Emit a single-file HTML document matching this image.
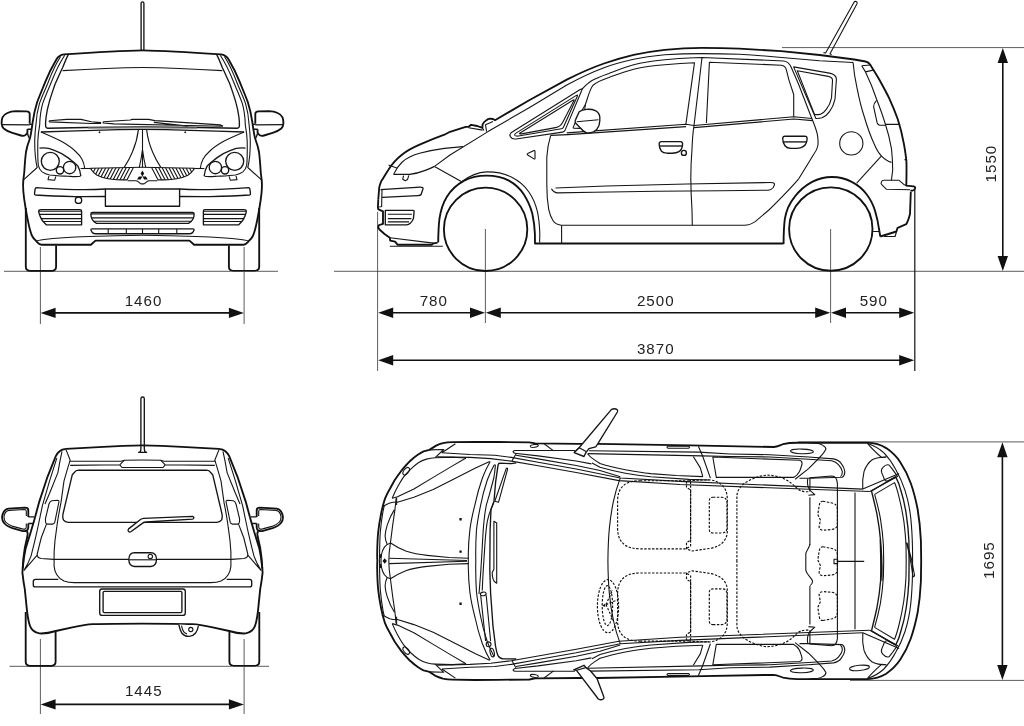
<!DOCTYPE html>
<html><head><meta charset="utf-8"><title>Blueprint</title>
<style>
html,body{margin:0;padding:0;background:#fff;}
svg{display:block}
.t{fill:none;stroke:#151515;stroke-width:1.1;stroke-linecap:butt;stroke-linejoin:round}
.m{fill:none;stroke:#151515;stroke-width:1.35;stroke-linecap:butt;stroke-linejoin:round}
.k{fill:none;stroke:#111;stroke-width:1.85;stroke-linecap:butt;stroke-linejoin:round}
.h{fill:none;stroke:#222;stroke-width:.6;stroke-linecap:butt}
.d{fill:none;stroke:#111;stroke-width:1.15;stroke-dasharray:2.4 1.5}
.e{fill:none;stroke:#333;stroke-width:.8}
.a{fill:none;stroke:#111;stroke-width:1.6}
.f{fill:#111;stroke:none}
.w{fill:#fff}
text{font-family:"Liberation Sans",sans-serif;font-size:14px;fill:#222;letter-spacing:.95px;text-anchor:middle}
</style></head><body>
<svg width="1024" height="726" viewBox="0 0 1024 726">
<rect width="1024" height="726" fill="#fff"/>
<g id="dims"><!-- ground lines -->
<path class="e" d="M4 271.3H278M334 271.3H1024M9.5 666.3H269M782 47.6H1024M798 441.9H1024M850 680.4H1024"/>
<!-- extension lines -->
<path class="e" d="M40.4 247V324M244.1 247V324M40.4 639V714M244.1 639V714M377.6 211.8V371M485.4 229V323M830.6 229V323"/>
<path class="e" style="stroke:#111;stroke-width:1.2" d="M914.8 190V371"/>
<!-- arrows -->
<path class="a" d="M52 312.9H233M52 704.4H233M389 312.8H474M497 312.8H819M842 312.8H903M389 360.3H903M1002.8 60V259M1002.4 454V668"/>
<path class="f" d="M40.6 312.9l15-5.2v10.4zM243.9 312.9l-15-5.2v10.4zM40.6 704.4l15-5.2v10.4zM243.9 704.4l-15-5.2v10.4z"/>
<path class="f" d="M378.2 312.8l15-5.2v10.4zM485 312.8l-15-5.2v10.4zM485.8 312.8l15-5.2v10.4zM830.2 312.8l-15-5.2v10.4zM831 312.8l15-5.2v10.4zM914.2 312.8l-15-5.2v10.4zM378.2 360.3l15-5.2v10.4zM914.2 360.3l-15-5.2v10.4z"/>
<path class="f" d="M1002.8 48l-5.2 15h10.4zM1002.8 271l-5.2-15h10.4zM1002.4 442.3l-5.2 15h10.4zM1002.4 680l-5.2-15h10.4z"/>
<text transform="translate(143.5 306.2) scale(1.08 1)">1460</text>
<text transform="translate(143.8 696.2) scale(1.08 1)">1445</text>
<text transform="translate(433.8 305.8) scale(1.08 1)">780</text>
<text transform="translate(655.8 305.8) scale(1.08 1)">2500</text>
<text transform="translate(873.8 305.8) scale(1.08 1)">590</text>
<text transform="translate(655.8 354.3) scale(1.08 1)">3870</text>
<text transform="translate(995.9 163.6) rotate(-90) scale(1.08 1)">1550</text>
<text transform="translate(994.2 560.1) rotate(-90) scale(1.08 1)">1695</text>
</g>
<g id="front"><g><!-- tyre -->
<path class="k" d="M25.8 208V266.6Q25.8 270.8 29.8 270.8H52.2Q56.1 270.8 56.1 266.6V245.4"/>
<!-- roof + pillar outer -->
<path class="k" d="M143 50.3C120 50.8 90 52.6 64 54.3C59.5 54.8 58 56.5 56.5 59.3C52 67 48.5 74 45.5 81.3C42 90 39.5 96 37.2 102C35 109 33.5 116 32.6 122.6C31.6 130 30.8 136 29.7 139C28.2 143 26.8 147 26 152C25.2 158 24.7 165 24.3 172L23.4 179.5C22.6 185 23.5 196 25.5 207.5C26.8 215 28 222 29.6 228.2C30.6 232 31.3 234.6 32.4 236.5C33.5 238.6 35 240 36.5 241.3C38 242.8 39 244.7 41.5 244.7H90.9L95.5 240.6H143"/>
<!-- pillar inner lines -->
<path class="t" d="M60.6 56.5C55 65 50.5 76 47.5 84C44.5 91 41.5 97.5 39.5 103.4C37.5 110 36.3 118 35.9 124.8C35.2 131 34.8 136 34.7 140.9C34.7 146 34.9 151 35.3 155.8C35.7 160 36.3 164 37.2 167.5L23.8 179.6"/>
<path class="t" d="M64.7 55.2C59 64 54.5 74 51.7 81.3C48.5 89 45 97 42.7 103.4C40.8 110 39.9 118 39.7 124.8C38.8 130 38 136 37.8 140.9C37.7 146 37.7 151 37.8 155.8C37.9 160 38 163 38.4 165.7C39 168.5 40.3 170.5 42.1 171.9C44.5 173.6 47 174.5 49.6 175C55 175.8 62 176 68 176.3C72 176.5 77 177 80.6 176.2"/>
<!-- windshield -->
<path class="m" d="M68.2 54.9C66 59 64.5 63 62.7 67.5C60 73 57.5 79 55.1 84C52.8 91 50.5 97 48.9 103.4C47.6 108 46.6 113 46.1 117C45.7 120 45.5 124 45.6 126C45.8 127.8 46.4 128.2 48 128.2C80 127.5 110 127 143 126.8"/>
<path class="t" d="M62.7 70.6C90 69 115 67.8 143 67.5"/>
<path class="m" d="M40.9 132C75 130.6 110 129.6 143 129.3"/>
<path class="t" style="stroke:#888;stroke-width:1.2" d="M88 128.2L143 127.8"/>
<!-- hood cutline -->
<path class="t" d="M40.9 132C48 135 55 138 61.3 141.3C67 144.5 71.5 147.5 75.1 151C78.5 154 80.5 156.5 82 159.2C83.5 162 84.3 165 84.7 168.4"/>
<!-- headlight -->
<path class="m" d="M39.5 148.2C45 147.4 50 148.5 54.4 150.3C60 152.2 64.5 155 68.2 157.9C72 161 75.5 163.5 77.9 166.1C79.6 169 80.4 172 80.8 176"/>
<circle class="m" cx="50.3" cy="161.3" r="9"/>
<circle class="m" cx="69.6" cy="167.5" r="6.2"/>
<circle class="m" cx="60" cy="170.3" r="3.7"/>
<path class="t" d="M49 176l-1 3.6l6.6.7l1.3-4"/>
<path class="t" d="M80.6 168.5H90.4"/>
<!-- hood creases -->
<path class="t" d="M138.4 129.6C137.4 138 135 146 132.4 152C130 158 127 163 124.2 167.4"/>
<path class="t" d="M142.5 129.6V167.3M142.4 150C141.6 157 140.3 163 139.3 167.3"/>
<!-- grille -->
<clipPath id="gc"><path d="M90.2 168.3L133.4 167.4L126.9 179.9C120 179.9 113 179.5 108.2 178.7C103 177.8 100 176.6 97.1 175.2C94 173.5 92 171 90.2 168.3Z"/></clipPath>
<path class="t" d="M90.2 168.3L143 167.2M133.4 167.4L126.9 179.9C120 179.9 113 179.5 108.2 178.7C103 177.8 100 176.6 97.1 175.2C94 173.5 92 171 90.2 168.3"/>
<g clip-path="url(#gc)"><path class="t" d="M130.0 167l-7 13.5M126.6 167l-7 13.5M123.2 167l-7 13.5M119.8 167l-7 13.5M116.4 167l-7 13.5M113.0 167l-7 13.5M109.6 167l-7 13.5M106.2 167l-7 13.5M102.8 167l-7 13.5M99.4 167l-7 13.5M96.0 167l-7 13.5M92.6 167l-7 13.5"/></g>
<path class="t" d="M127.6 180.7H136.2C138 181 139 182.6 140.3 183.4C141 183.8 142 183.9 143 183.9"/>
<!-- bumper strip -->
<path class="m" d="M105.4 189C95 189.8 85 189.8 75.1 189.6C62 189.2 48 188.4 36.4 187.6C35.6 187.6 35.4 187.8 35.2 188.6L34.5 193.6C34.4 194.5 34.7 194.9 35.6 195C48 196 62 196.4 75.1 196.6C85 196.7 95 196.6 105.4 196.5"/>
<!-- plate -->
<path class="m" d="M143 189H105.4V206.2H143"/>
<!-- side grille -->
<path class="m" d="M41 209.6H80Q81.6 209.6 81.6 211.2V224.8H46.2C43 222 41 219 40 216C39.2 214 38.6 212.5 38.7 211.2Q38.8 209.6 41 209.6Z"/>
<path class="t" d="M39.2 214.4H81.6M40.7 218.6H81.6M43 221.5H81.6M38.9 211.2H81.6"/>
<!-- centre grille -->
<path class="m" d="M143 212.4H92.5Q90.9 212.4 90.9 214C90.9 216 91 217.5 92 219C93 221 94.5 222.5 96.5 223.4H143"/>
<path class="t" d="M90.9 213.9H143M91.3 217.9H143M94 221.3H143"/>
<!-- lower slot -->
<path class="m" d="M143 228.9H92Q90.7 228.9 91 230C91.6 232 93 233.7 95.5 233.7H143"/>
<path class="t" d="M108.2 228.9V233.7M126.3 228.9V233.7"/>
<!-- bumper inner line -->
<path class="t" d="M36.5 241.3C37 240.6 40 240 44 239.5C55 238.2 70 237.2 88.9 236.5C105 235.8 125 235.3 143 235.2"/>
<!-- mirror -->
<path class="k" d="M29.7 123.8V113.8Q29.7 111.5 26.6 111.4L16.1 111.2C12 111.4 9.5 112 7.4 113C4.5 114.3 3.1 115.8 2.5 117.3C1.7 119.5 1.5 121.5 1.6 123.5C1.8 126 2.5 127.5 3.7 128.5C6 130.5 9 131.8 12.4 132.8L21 135.5Q23.5 136.3 25.2 135.2C26.6 134.2 27.4 133.5 27.4 132.6V129.2"/>
<path class="m" d="M27.4 129.2H31.8M29.7 124.3H32.4M1.8 124.6L29.7 124.9M27.4 133C27.8 135 28.8 137.5 29.7 139"/>
</g><g style="mix-blend-mode:darken" transform="matrix(-1 0 0 1 285 0)"><rect x="0" y="40" width="150" height="235" fill="#fff"/><!-- tyre -->
<path class="k" d="M25.8 208V266.6Q25.8 270.8 29.8 270.8H52.2Q56.1 270.8 56.1 266.6V245.4"/>
<!-- roof + pillar outer -->
<path class="k" d="M143 50.3C120 50.8 90 52.6 64 54.3C59.5 54.8 58 56.5 56.5 59.3C52 67 48.5 74 45.5 81.3C42 90 39.5 96 37.2 102C35 109 33.5 116 32.6 122.6C31.6 130 30.8 136 29.7 139C28.2 143 26.8 147 26 152C25.2 158 24.7 165 24.3 172L23.4 179.5C22.6 185 23.5 196 25.5 207.5C26.8 215 28 222 29.6 228.2C30.6 232 31.3 234.6 32.4 236.5C33.5 238.6 35 240 36.5 241.3C38 242.8 39 244.7 41.5 244.7H90.9L95.5 240.6H143"/>
<!-- pillar inner lines -->
<path class="t" d="M60.6 56.5C55 65 50.5 76 47.5 84C44.5 91 41.5 97.5 39.5 103.4C37.5 110 36.3 118 35.9 124.8C35.2 131 34.8 136 34.7 140.9C34.7 146 34.9 151 35.3 155.8C35.7 160 36.3 164 37.2 167.5L23.8 179.6"/>
<path class="t" d="M64.7 55.2C59 64 54.5 74 51.7 81.3C48.5 89 45 97 42.7 103.4C40.8 110 39.9 118 39.7 124.8C38.8 130 38 136 37.8 140.9C37.7 146 37.7 151 37.8 155.8C37.9 160 38 163 38.4 165.7C39 168.5 40.3 170.5 42.1 171.9C44.5 173.6 47 174.5 49.6 175C55 175.8 62 176 68 176.3C72 176.5 77 177 80.6 176.2"/>
<!-- windshield -->
<path class="m" d="M68.2 54.9C66 59 64.5 63 62.7 67.5C60 73 57.5 79 55.1 84C52.8 91 50.5 97 48.9 103.4C47.6 108 46.6 113 46.1 117C45.7 120 45.5 124 45.6 126C45.8 127.8 46.4 128.2 48 128.2C80 127.5 110 127 143 126.8"/>
<path class="t" d="M62.7 70.6C90 69 115 67.8 143 67.5"/>
<path class="m" d="M40.9 132C75 130.6 110 129.6 143 129.3"/>
<path class="t" style="stroke:#888;stroke-width:1.2" d="M88 128.2L143 127.8"/>
<!-- hood cutline -->
<path class="t" d="M40.9 132C48 135 55 138 61.3 141.3C67 144.5 71.5 147.5 75.1 151C78.5 154 80.5 156.5 82 159.2C83.5 162 84.3 165 84.7 168.4"/>
<!-- headlight -->
<path class="m" d="M39.5 148.2C45 147.4 50 148.5 54.4 150.3C60 152.2 64.5 155 68.2 157.9C72 161 75.5 163.5 77.9 166.1C79.6 169 80.4 172 80.8 176"/>
<circle class="m" cx="50.3" cy="161.3" r="9"/>
<circle class="m" cx="69.6" cy="167.5" r="6.2"/>
<circle class="m" cx="60" cy="170.3" r="3.7"/>
<path class="t" d="M49 176l-1 3.6l6.6.7l1.3-4"/>
<path class="t" d="M80.6 168.5H90.4"/>
<!-- hood creases -->
<path class="t" d="M138.4 129.6C137.4 138 135 146 132.4 152C130 158 127 163 124.2 167.4"/>
<path class="t" d="M142.5 129.6V167.3M142.4 150C141.6 157 140.3 163 139.3 167.3"/>
<!-- grille -->
<clipPath id="gc"><path d="M90.2 168.3L133.4 167.4L126.9 179.9C120 179.9 113 179.5 108.2 178.7C103 177.8 100 176.6 97.1 175.2C94 173.5 92 171 90.2 168.3Z"/></clipPath>
<path class="t" d="M90.2 168.3L143 167.2M133.4 167.4L126.9 179.9C120 179.9 113 179.5 108.2 178.7C103 177.8 100 176.6 97.1 175.2C94 173.5 92 171 90.2 168.3"/>
<g clip-path="url(#gc)"><path class="t" d="M130.0 167l-7 13.5M126.6 167l-7 13.5M123.2 167l-7 13.5M119.8 167l-7 13.5M116.4 167l-7 13.5M113.0 167l-7 13.5M109.6 167l-7 13.5M106.2 167l-7 13.5M102.8 167l-7 13.5M99.4 167l-7 13.5M96.0 167l-7 13.5M92.6 167l-7 13.5"/></g>
<path class="t" d="M127.6 180.7H136.2C138 181 139 182.6 140.3 183.4C141 183.8 142 183.9 143 183.9"/>
<!-- bumper strip -->
<path class="m" d="M105.4 189C95 189.8 85 189.8 75.1 189.6C62 189.2 48 188.4 36.4 187.6C35.6 187.6 35.4 187.8 35.2 188.6L34.5 193.6C34.4 194.5 34.7 194.9 35.6 195C48 196 62 196.4 75.1 196.6C85 196.7 95 196.6 105.4 196.5"/>
<!-- plate -->
<path class="m" d="M143 189H105.4V206.2H143"/>
<!-- side grille -->
<path class="m" d="M41 209.6H80Q81.6 209.6 81.6 211.2V224.8H46.2C43 222 41 219 40 216C39.2 214 38.6 212.5 38.7 211.2Q38.8 209.6 41 209.6Z"/>
<path class="t" d="M39.2 214.4H81.6M40.7 218.6H81.6M43 221.5H81.6M38.9 211.2H81.6"/>
<!-- centre grille -->
<path class="m" d="M143 212.4H92.5Q90.9 212.4 90.9 214C90.9 216 91 217.5 92 219C93 221 94.5 222.5 96.5 223.4H143"/>
<path class="t" d="M90.9 213.9H143M91.3 217.9H143M94 221.3H143"/>
<!-- lower slot -->
<path class="m" d="M143 228.9H92Q90.7 228.9 91 230C91.6 232 93 233.7 95.5 233.7H143"/>
<path class="t" d="M108.2 228.9V233.7M126.3 228.9V233.7"/>
<!-- bumper inner line -->
<path class="t" d="M36.5 241.3C37 240.6 40 240 44 239.5C55 238.2 70 237.2 88.9 236.5C105 235.8 125 235.3 143 235.2"/>
<!-- mirror -->
<path class="k" d="M29.7 123.8V113.8Q29.7 111.5 26.6 111.4L16.1 111.2C12 111.4 9.5 112 7.4 113C4.5 114.3 3.1 115.8 2.5 117.3C1.7 119.5 1.5 121.5 1.6 123.5C1.8 126 2.5 127.5 3.7 128.5C6 130.5 9 131.8 12.4 132.8L21 135.5Q23.5 136.3 25.2 135.2C26.6 134.2 27.4 133.5 27.4 132.6V129.2"/>
<path class="m" d="M27.4 129.2H31.8M29.7 124.3H32.4M1.8 124.6L29.7 124.9M27.4 133C27.8 135 28.8 137.5 29.7 139"/>
</g><!-- antenna -->
<path class="m" d="M141.1 50.3V3.2Q141.1 1.8 142.5 1.8Q143.9 1.8 143.9 3.2V50.3"/>
<path class="t" d="M142.5 228.9V233.7"/>
<!-- fog sensor -->
<circle class="m w" cx="78.5" cy="200.2" r="3.2"/>
<!-- logo -->
<path class="f" d="M142.4 176.4l-1.75-3l1.75-3l1.75 3zM142.4 176.4l-1.75 3.1h-3.6l1.8-3.1zM142.4 176.4l1.75 3.1h3.6l-1.8-3.1z"/>
<!-- wipers -->
<path class="t" d="M49.2 120.8L66.7 119.4H81L91.3 121.8L101.1 122.6M49.2 121.9L91.3 123.5L101.1 123.4M49.2 120.8V121.9"/>
<path class="t" d="M103.2 121.8L130.2 120L132.3 119.4H148.7L154.8 120.6L220.5 124.9L223.1 126.3M103.2 121.8V123L113.8 123.9L223.1 126.3M153.8 122.4L187.7 126.1"/>
<path class="t" d="M98.9 132.9l.6-1l.6 1M184.6 132.9l.6-1l.6 1"/>
</g>
<g id="rear"><g><!-- tyre -->
<path class="k" d="M25.7 612V661.6Q25.7 665.8 29.7 665.8H51.6Q55.6 665.8 55.6 661.6V631.5"/>
<!-- roof + outer body -->
<path class="k" d="M143 445.3C125 445.6 112 446.3 103.3 446.8L66.1 448.9C62.5 449.2 61 450 59.9 451C58 452.6 56.8 454 55.8 456.1L47.5 476.8L39.3 501.6L35.1 516.9"/>
<path class="k" d="M35.1 516.9C33.8 522 32.2 527 31 531.3L25.8 547.9C24.2 555 23.2 562 22.7 568.5L22.4 572.6C23 578 23.8 584 24.8 589.2L26.9 609.8C27.4 614.5 28 618.5 28.9 622.2C29.8 626 31 628.8 33.1 630.5C35 632.2 37 633.2 39.3 633.4C45 633.8 50.5 632.6 55.8 631L72.3 627.4C79 626 86 624.6 93 624.2C110 623.6 126 623.6 143 623.6"/>
<!-- pillar thin lines -->
<path class="t" d="M56.8 458.2L49.6 480.9L42.4 505.7L37.2 530.5C35.5 538 33.5 547 31 556.1C29 561.5 26.8 566 24 570.4L37.2 555.1"/>
<path class="t" d="M62 451.4C60.5 458 59 466 57.9 472.6L49.6 493.3L45 504"/>
<!-- spoiler / roof edge -->
<path class="t" d="M66.1 449.9L70.2 460.2C68 467 66 474 64 480.9L61 502.4C59.3 511 57.8 519 56.8 527.2C55.4 536 54.5 544 54.1 552V566.4C54.4 569.6 55.3 572.4 56.8 574.7C58.6 577.6 61 579.6 64 580.9C67 582 70.5 582.5 74.4 582.6H143"/>
<path class="t" d="M69.4 461.2L121 461.3L124.4 460.2L143 460"/>
<path class="t" d="M70.2 465.4L119.8 464.8L124.4 460.2M119.8 464.8L122 467.5H143"/>
<!-- rear window -->
<path class="m" d="M143 470.2H78.5Q75.5 470.3 74.6 472.2L72.3 474.7L63 514Q62.3 518 63.6 520.2Q65 522.2 68.2 522.3H143"/>
<!-- tail light -->
<path class="t" d="M51.7 500.7L57.5 500.3Q59.3 500.3 58.9 502L54.8 522.2Q54.3 524 52.5 524.1H47.5Q45.7 524 45.6 522Q45.3 520 45.5 518.5L49 504Q49.8 501.2 51.7 500.7Z"/>
<path class="t" d="M46.5 524.1C44.5 529 43 533.5 41.3 537.5L37.2 554C37 556.5 38.5 558.2 41.3 558.5L53.7 559.4H143"/>
<!-- strip -->
<path class="m" d="M58.3 579.4H35.4Q33.3 579.5 33.3 581.5V585Q33.3 586.9 35.4 586.9H143"/>
<!-- plate -->
<path class="m" d="M143 589H102Q99.7 589 99.7 591.3V613Q99.7 615.4 102 615.4H143"/>
<path class="m" d="M143 591.4H104.5Q103.1 591.4 103.1 592.8V611.2Q103.1 612.6 104.5 612.6H143"/>
<!-- mirror -->
<path class="k" d="M28.3 516.9V510.2Q28.3 507.6 25 507.6L8.3 508.6C5 509.2 2.8 512 2.1 516.9C2 520 3 522 4.1 523C6 525.5 9 527 12.4 528.2L22 530.8Q24.6 531.6 26.5 530.7Q28.3 529.8 28.3 527.6V523.5"/>
<path class="t" d="M26.3 516V511.2Q26.3 509.5 24.4 509.5L9 510.4C6.3 510.8 4.5 513 4 516.8C4 519.5 4.6 521 5.6 522C7.3 524 10 525.3 13 526.4L22.3 528.9Q24.4 529.4 25.4 528.9Q26.3 528.2 26.3 526.8V523.5"/>
<path class="m" d="M28.3 516.9H34.4M28.3 523.5H33.2"/>
<path class="k" d="M26.9 531C27.6 532.5 28 533.5 27.6 535C26.8 539 25.8 543.5 24.8 547.9C23.6 555 23 562 22.7 568.5"/>
</g><g style="mix-blend-mode:darken" transform="matrix(-1 0 0 1 285 0)"><rect x="0" y="440" width="150" height="230" fill="#fff"/><!-- tyre -->
<path class="k" d="M25.7 612V661.6Q25.7 665.8 29.7 665.8H51.6Q55.6 665.8 55.6 661.6V631.5"/>
<!-- roof + outer body -->
<path class="k" d="M143 445.3C125 445.6 112 446.3 103.3 446.8L66.1 448.9C62.5 449.2 61 450 59.9 451C58 452.6 56.8 454 55.8 456.1L47.5 476.8L39.3 501.6L35.1 516.9"/>
<path class="k" d="M35.1 516.9C33.8 522 32.2 527 31 531.3L25.8 547.9C24.2 555 23.2 562 22.7 568.5L22.4 572.6C23 578 23.8 584 24.8 589.2L26.9 609.8C27.4 614.5 28 618.5 28.9 622.2C29.8 626 31 628.8 33.1 630.5C35 632.2 37 633.2 39.3 633.4C45 633.8 50.5 632.6 55.8 631L72.3 627.4C79 626 86 624.6 93 624.2C110 623.6 126 623.6 143 623.6"/>
<!-- pillar thin lines -->
<path class="t" d="M56.8 458.2L49.6 480.9L42.4 505.7L37.2 530.5C35.5 538 33.5 547 31 556.1C29 561.5 26.8 566 24 570.4L37.2 555.1"/>
<path class="t" d="M62 451.4C60.5 458 59 466 57.9 472.6L49.6 493.3L45 504"/>
<!-- spoiler / roof edge -->
<path class="t" d="M66.1 449.9L70.2 460.2C68 467 66 474 64 480.9L61 502.4C59.3 511 57.8 519 56.8 527.2C55.4 536 54.5 544 54.1 552V566.4C54.4 569.6 55.3 572.4 56.8 574.7C58.6 577.6 61 579.6 64 580.9C67 582 70.5 582.5 74.4 582.6H143"/>
<path class="t" d="M69.4 461.2L121 461.3L124.4 460.2L143 460"/>
<path class="t" d="M70.2 465.4L119.8 464.8L124.4 460.2M119.8 464.8L122 467.5H143"/>
<!-- rear window -->
<path class="m" d="M143 470.2H78.5Q75.5 470.3 74.6 472.2L72.3 474.7L63 514Q62.3 518 63.6 520.2Q65 522.2 68.2 522.3H143"/>
<!-- tail light -->
<path class="t" d="M51.7 500.7L57.5 500.3Q59.3 500.3 58.9 502L54.8 522.2Q54.3 524 52.5 524.1H47.5Q45.7 524 45.6 522Q45.3 520 45.5 518.5L49 504Q49.8 501.2 51.7 500.7Z"/>
<path class="t" d="M46.5 524.1C44.5 529 43 533.5 41.3 537.5L37.2 554C37 556.5 38.5 558.2 41.3 558.5L53.7 559.4H143"/>
<!-- strip -->
<path class="m" d="M58.3 579.4H35.4Q33.3 579.5 33.3 581.5V585Q33.3 586.9 35.4 586.9H143"/>
<!-- plate -->
<path class="m" d="M143 589H102Q99.7 589 99.7 591.3V613Q99.7 615.4 102 615.4H143"/>
<path class="m" d="M143 591.4H104.5Q103.1 591.4 103.1 592.8V611.2Q103.1 612.6 104.5 612.6H143"/>
<!-- mirror -->
<path class="k" d="M28.3 516.9V510.2Q28.3 507.6 25 507.6L8.3 508.6C5 509.2 2.8 512 2.1 516.9C2 520 3 522 4.1 523C6 525.5 9 527 12.4 528.2L22 530.8Q24.6 531.6 26.5 530.7Q28.3 529.8 28.3 527.6V523.5"/>
<path class="t" d="M26.3 516V511.2Q26.3 509.5 24.4 509.5L9 510.4C6.3 510.8 4.5 513 4 516.8C4 519.5 4.6 521 5.6 522C7.3 524 10 525.3 13 526.4L22.3 528.9Q24.4 529.4 25.4 528.9Q26.3 528.2 26.3 526.8V523.5"/>
<path class="m" d="M28.3 516.9H34.4M28.3 523.5H33.2"/>
<path class="k" d="M26.9 531C27.6 532.5 28 533.5 27.6 535C26.8 539 25.8 543.5 24.8 547.9C23.6 555 23 562 22.7 568.5"/>
</g><!-- antenna -->
<path class="m" d="M138.6 452.3L140.5 451.6L140.9 448.6V398.8Q140.9 397 142.6 397Q144.3 397 144.3 398.8V448.6L144.8 451.6L146.6 452.3Z"/>
<!-- wiper -->
<path class="m w" d="M128.6 531.6Q127.4 530.3 128.6 528.9L139.5 520.2Q141 518.7 143.5 518.3L192.6 516.3Q193.9 516.5 193.9 517.8Q193.8 519 192.6 519.2L146 522Q143.5 522.3 142 523.6L130.8 531.8Q129.6 532.6 128.6 531.6Z"/>
<!-- handle -->
<path class="m w" d="M134.5 552.7H150.8Q156.5 553 156.5 559.6Q156.3 566.2 150.8 566.5H134.5Q128.9 566.2 128.8 559.6Q128.9 553 134.5 552.7Z"/>
<path class="t" d="M128.9 559.8H156.4"/>
<circle class="t" cx="150.3" cy="556.4" r="2.2"/>
<!-- tow hook -->
<path class="m w" d="M178.8 624.6C179.5 628 180.5 631 181.9 633.3C184 635.8 186.5 636.6 189.2 636.4C192 636.2 194 635 195.4 633.3C197 631 198 628.5 198.5 625.5"/>
<path class="t" d="M181.5 625.6C182 628.5 182.8 630.5 184 632.2C185 633.3 186 633.8 187.1 633.9"/>
<circle class="t" cx="190.8" cy="629.5" r="2.1"/>
</g>
<g id="side"><!-- wheels -->
<circle class="k" cx="485.6" cy="229.3" r="41.7"/>
<circle class="k" cx="830.8" cy="229" r="41.7"/>
<!-- main outline: front bumper, hood, roof, rear -->
<path class="k" d="M437.6 242.6L433.6 243.3L431.7 244.7H397.5L395.1 241.7L390.2 240.7L389.8 237.8L384.5 234L379.2 229.2Q377.8 227.4 378.4 226Q379 224.9 380.5 224.7L383 223.9V211.3L379.6 209.9Q377.8 209.2 377.9 207.5L378.3 199.3"/>
<path class="t" d="M389.8 237.8L433.6 243.1"/>
<path class="k" d="M378.3 199.3L379.2 187.7C379.6 185.5 380.2 183.5 381.2 181.3C383 179 385.5 174 388.6 169.4C392 164 396.5 159 402.2 154.5C407 150.5 413 147.5 419.6 144.6C428 141 436 137.8 444.4 134.7L450 131.8L465.7 126.8H468.6L471.1 124.8L477.3 126L482.4 127.8L482.6 124.3C483.5 122.5 485 121 486.4 120.2C487.5 119.3 488.5 118.8 489.7 118.6L493 119L495 120.2L529.6 100L566.8 79.6C579 73.5 591 68 604 63.5C614 60 624 57 633.7 54.8C642 53 652 51.2 664.8 49.8C678 48.6 690 48 702 47.9C715 47.9 727 48.1 739.2 48.6C753 49.3 767 50.2 781.3 51.1L819.6 55L854.3 59.5L865.5 61.5C868 62 869.5 63.5 870.4 65C873.5 70 876.5 74.5 879.1 79.3C882.5 85.5 886 91.5 889 97.9C892 104.5 895 111.5 897.7 119C900.3 127 902.3 135 903.9 143.8C905 150 905.9 155.5 906.4 161.2C906.7 168 906.5 176 906.3 185.6L913.7 186.4Q915.6 187 915 188.8Q914.5 190.6 912.5 190.6H910.4"/>
<path class="k" d="M910.8 191.8L910 214.1C909 218 908 221.5 906.3 224.1L897.6 227.8L896.4 231.5L880.3 236.5"/>
<!-- front wheel arch -->
<path class="k" d="M438.2 242.6C438.3 234 438.6 226 439.4 219C440.6 210.5 443 203 446.9 196.7C451 190 457 184.5 464.2 180.6C471 177 478.5 175.6 486.5 175.6C494.5 175.6 502.5 177.2 508.9 180.6C515 184 520 188.5 523.7 194.2C527.5 200 530.5 206.5 532.4 214C533.8 220.5 534.6 227 534.9 233.9L535 243.5H783L783.6 243.9"/>
<path class="t" d="M461.7 181.8C469 176.2 477.5 172.2 486.5 171.9C495.5 171.7 504 173.5 511.3 176.9C518.5 180.5 524.5 185.5 528.7 191.7C532.8 197.5 535.8 204.5 537.4 211.6C539 219 539.6 226.5 539.8 233.9L539.6 242.6"/>
<!-- rear wheel arch -->
<path class="k" d="M783.6 243.9C783.6 235 783.8 227 784.8 219.1C786.2 210.5 789.5 203 794.7 196.8C799.5 190.5 805.5 185.5 812.1 181.9C818.5 178.6 825 177 831.9 177C839 177 845.8 178.6 851.7 181.9C857.8 185 862.8 189.2 866.6 194.3C870.5 199.5 873.5 205.4 875.3 211.7C877 217.5 878.2 223 879 229L880.3 236.5"/>
<!-- under rear bumper bits -->
<path class="t" d="M872.8 231.5H879.4M884 236.5H895.1L896.4 232"/>
<!-- ground shadow line at front chin -->
<path class="t" d="M389.8 246.2H442.8"/>
<!-- front bumper details -->
<path class="t" d="M382 190.1L381.6 206.5L379.2 207"/>
<path class="m" d="M380.6 189.6L420.1 187.2Q423.4 187.1 423 188.9L421.1 194.5Q420.3 195.5 418.2 195.6L382 197.3"/>
<path class="m" d="M385.3 210.4H413Q414.3 210.5 414.1 211.6L413.4 218.6C412.8 220.4 411.8 221.8 410.5 222.9C409.3 223.9 408 224.6 406.6 224.8H385.3Z"/>
<path class="t" d="M387.8 214.2H411.9M387.8 218.6H411.4M387.8 221.9H409"/>
<!-- headlight -->
<path class="t" d="M393.6 174.4C395.5 170 398.5 165.5 402.2 162C407 158 413 155 419.6 153.3C428 151 436 149.5 444.4 148.4L463 146.6"/>
<path class="m" d="M393.6 174.4H409.7C415 173.8 420 172.5 424.5 170.7C428.5 169.3 431.5 168 434.5 166.4"/>
<path class="t" d="M388.6 165L397.3 168.2M403.6 175.6l-.9 3.6l2.6 1.6l2.2-1.2l1.3-4.2"/>
<!-- hood cut line -->
<path class="t" d="M468.6 127.7L482.6 130.1M482.4 127.8L483.9 130.5M486.6 131.6L485.5 124.8L493 121.4"/>
<path class="t" d="M434.5 166.4L461.7 181.8"/>
<!-- side marker -->
<path class="t" d="M527.7 153.6L534 150.6Q535 150.4 535 151.4V158.2Q535 159.3 534 158.9L527.7 155Q526.7 154.3 527.7 153.6Z"/>
<!-- roof second line -->
<path class="t" d="M434.5 166.4L450 155L488 131.6L530 107.2L566.8 85C579 78.3 591 72.5 604 67.7C614 64 624 61.5 633.7 59.3C642 57.5 652 56 664.8 54.8C678 53.9 690 53.6 702 53.6C715 53.6 727 53.8 739.2 54.3C753 55 766 56 778.9 57.3L819.6 60.7L853.1 62.5"/>
<!-- window frame top line -->
<path class="t" d="M581.7 89.5C585 86 588 83 591.6 80.8C597 77.5 603 75.5 608.9 73.4C617 70.3 625 67 633.7 64.7C642 62.5 652 61 664.8 59.8C675 58.8 685 58.2 694.5 57.8L702 57.5L783.8 61C787.5 61.5 789.8 64 791.2 67.2L798.7 84.5L811.1 116.8C813.5 122.5 816 128.5 817.3 134.1C818.2 139 818.3 142.5 817.8 146C817 149.5 815.5 152 813.6 154.5C808.5 163 803.5 171 798.7 178.8C790 189 780 199 768.9 210L755.2 221.6Q750 225.2 744.2 225.2H561C557 224.6 554.3 222.8 552.8 220.2C550.7 217 549.5 213 548.7 209.3C547.3 201 546.8 193 546.8 184.7V157.3C547.2 150 548.3 143 550.7 135.4"/>
<!-- quarter window front -->
<path class="t" d="M511 132.8L580.6 89.2Q582.6 88.3 581.7 90.5L564.9 130.6Q564.3 131.9 562.5 132.1L516 139Q512 139.5 510.3 136.6Q509.3 134.4 511 132.8Z"/>
<path class="t" d="M515.6 133.4L576.4 95.4Q578 94.6 577.3 96.2L563.3 127.4Q562.8 128.5 561.3 128.7L518.5 136Q515.5 136.4 514.7 135.2Q514.3 134.2 515.6 133.4Z"/>
<path class="t" d="M519.7 133.2L573.3 100Q574.6 99.3 574 100.6L562.6 122.5C561 125.5 558.5 127 555.5 127.6L521.5 133.9Q519 134 519.7 133.2Z"/>
<!-- front door window -->
<path class="t" d="M573 128C574 125.5 574.7 123.5 575.5 121.7L585.4 104.4C588 97 589.5 90 592.8 85.5C596 82.5 601 80 608.9 77.4C617 74.5 625 71.5 633.7 69.2C642 67.2 652 65.7 664.8 64.7C675 63.8 685 63.1 694.5 62.7L685.9 124.2"/>
<path class="t" d="M566.8 132.9L685.9 124.2L694 125.5L793.7 116.8L812.2 118.5"/>
<path class="t" d="M550.7 135.4L568 134.6L686 126.6M694 127.6L794 119L812.5 120.6"/>
<!-- B pillar -->
<path class="t" d="M702 57.8L694 125.5C692.8 133 692.3 141 692 149C691.2 159 690.8 169 690.8 178.8C690.9 189 691.3 199 692 210L692.3 225.2"/>
<!-- rear door window -->
<path class="t" d="M706.4 123L709.4 62.2L781.3 65.2C784.5 65.6 785.8 67.5 786.3 69.7L788.8 79.6L793.7 94.5V116.8"/>
<!-- rear quarter window -->
<path class="t" d="M793.6 66.9L829.5 73.1Q836.4 74.5 836.4 79.3L835 99.2C834 104 832.3 108 829.5 111.6C827.5 114.5 825 116.5 822.1 117.8Q819 118.6 815.9 118.5Z"/>
<path class="t" d="M797.3 70.7L828.3 76.4Q832.7 77.3 832.5 80.6L831.5 97.9C830.7 102 829 106 826.5 109.1C824.8 111.5 823 113 820.8 114.1Q817.8 114.8 814.6 114.6Z"/>
<!-- mirror -->
<path class="m w" d="M579.2 111.8Q582 109.6 586.6 109.3Q592 109 595.3 110.6Q599.3 112.6 599.8 116.8Q600.2 121.5 599 125.5Q597.3 129.8 594 131.7Q590.5 133.2 586.6 132.9Q583 131.5 580.4 128L575.5 123Q574.6 121.6 575.6 119.6Z"/>
<path class="t" d="M576.7 121.7L598.5 119.8M585.6 103.5L584.6 110"/>
<path class="t" d="M573.2 128.2L580.6 128.4"/>
<!-- handles -->
<path class="m" d="M661.5 141.6H680.3Q682.6 141.7 682.6 143.8C682.6 147 681.5 150 679 151.6Q676.5 153.2 672 153.2H667Q663 153.1 661.3 151C659.8 149 659.1 146.5 659.1 143.8Q659.2 141.7 661.5 141.6Z"/>
<path class="m" d="M659.3 146H682.4"/>
<circle class="m w" cx="683.9" cy="152.9" r="2.5"/>
<path class="m" d="M785 136.2H804.7Q807.1 136.3 807.1 138.4C807.1 141.5 806 144.5 803.5 146.4Q801 148.4 796.5 148.4H791Q787 148.3 785.2 146C783.6 144 782.7 141.5 782.7 138.4Q782.8 136.3 785 136.2Z"/>
<path class="m" d="M782.9 141.9H806.9"/>
<!-- moulding -->
<path class="t" d="M555.5 188C590 186.3 625 185.2 656.7 184.7C695 183.8 735 183 770.2 182.5Q775.3 182.3 774.3 185.1Q773.5 188.4 770.8 189.6Q769 190.3 767.5 190.2C730 190.7 695 191 656.7 191.3C625 191.7 590 192.3 556.9 192.9Q553.5 192.4 551.4 188.8"/>
<!-- sill details -->
<path class="t" d="M561.6 225.2V243.5"/>
<!-- fuel cap -->
<circle class="t" cx="851.3" cy="143.4" r="11.6"/>
<!-- rear: D pillar / hatch lines -->
<path class="t" d="M853.1 62.5C853.8 71 855 79 856.8 86.8C858.8 97 861 107 864.2 116.5C867 126 870 135 874.1 143.8C876 148.5 878.5 153 881.6 156.2C884.5 159.3 888 161.5 891.5 162.4"/>
<path class="t" d="M881.5 155.9L856.7 183.1"/>
<path class="t" d="M861.7 65.7L865.5 71.9L874.1 69.9M861.7 65.7L870.4 65M865.5 71.9C870 81 873.5 90 876.6 99.2C880 108 883 116 885.3 124C888 132 890 140 891.5 148.8C892.3 156 892.6 163 892.7 170L891.4 180.2"/>
<path class="t" d="M876.6 100.4C874.6 102.4 873.5 104.5 873.6 106.6L877.1 122.7Q877.8 125.2 880 125.2H885.5M885.3 124.4H900.2M904.5 159.6H906.6"/>
<!-- rear reflector -->
<path class="t" d="M881.5 181.9Q882 180.3 884 180.2H898.8L903.8 184.4L906.3 185.6M881.5 181.9Q880.6 183.4 881.5 184.4L886.5 189.3L910 189.8"/>
<!-- antenna -->
<path class="t" d="M823.5 52.6L825.6 53L853.9 2.4Q854.8 0.8 856.3 1.6Q857.7 2.4 857 3.8L830 53.8L831.6 54.8"/>
</g>
<g id="top"><g><!-- outer body -->
<path class="k" d="M377.4 561.4C377.2 558 377.1 555 377.2 552.6C377.3 545 377.6 538 378.2 532C378.9 526 379.8 520 381 514.1C382.1 508.5 383.4 503.5 385 498.6C386.4 495 388 492 389.8 489L394.6 480.3C396.8 477 399 473.8 401.4 470.7C404.2 467.3 407 464 410.1 461C412.6 458.7 415 456.7 417.8 454.8C419.8 453.5 421.6 452.3 423.6 451.4L429.4 449.9L436.1 445.6C438.3 444.6 440.5 443.8 442.9 443.2C446 442.6 449 442.3 452.5 442.2L475 441.8L497.9 442L529.3 442.3L535.2 443.4L578.1 443.8H597.7L690 445.4L773.7 447C777 446.8 780 445.2 783.1 444.1C787.5 443 792 442.7 797.2 442.7H867.5C875 443 881 445 886.2 448.1C892 452 896.5 456.5 900.3 462.2C904.5 468.5 908 475.5 910.8 483.3C913.5 491 915.8 500 917.6 509C919.3 519 920.4 530 920.9 540.6L921.2 561.4"/>
<!-- inner front bumper line -->
<path class="t" d="M379.6 561.4V552.6C379.7 545 379.9 538 380.3 532C380.9 525 381.8 518 383 511.3L384.2 506"/>
<!-- grille top -->
<path class="t" d="M383 506.5C385.5 505 387.5 503.8 389.9 503C392 502.4 394.5 502.1 396.8 502"/>
<path class="t" d="M396.1 498.2C395.8 502 395.3 507 394.7 511.3L392.7 525.1L390.6 541.6L389.2 552.6L388.8 561.4"/>
<path class="t" d="M394.4 509.6C391.5 514 389 519.5 387.2 525.1C386 529 385.2 532.6 385.1 536.1C385.2 539 386 542 387.2 544.4"/>
<path class="t" d="M390.6 543C387.5 543.8 385.8 545 384.4 547.1C383 549.3 382.1 551.5 381.6 554C381.2 556.4 381 558.6 381 561.4"/>
<!-- headlight and fender lines -->
<path class="t" d="M392.2 498.2C393.8 494.5 395.5 490.8 397.5 487.1C399.3 483.8 401.2 480.5 403.3 477.4C405.6 474.3 408.2 471.4 411 468.8C413.4 466.5 416 464.4 418.7 462.5C421 461 423.6 459.9 426.5 459.1C429.2 458.3 432 457.8 435.1 457.7L452.5 457.2L466 458"/>
<path class="t" d="M392.2 498.2L397.5 496.7L413.9 489L433.2 477.4L452.5 465.9L466 458"/>
<path class="t" d="M396.6 502.5L413.9 497.2L433.2 489.5L452.5 479.8L475 468.3L489.6 461.6M396.6 497.6V505"/>
<ellipse class="t" cx="406.2" cy="471.2" rx="4.3" ry="2.3" transform="rotate(-52 406.2 471.2)"/>
<path class="t" d="M429.4 449.9L443.8 449.5L435.1 457.7M455.4 443.7L441.9 452.8"/>
<!-- hood creases -->
<path class="t" d="M390.6 543C395.5 546.5 401 549.2 406.4 551.3C413 553.4 420 554.6 427.1 555.4L449.1 557.5L468.4 558.2"/>
<path class="t" d="M389.2 558.2L467 560.5"/>
<!-- hood rear/cowl arcs -->
<path class="t" d="M490.2 461.5C487 467 484.5 472.5 482.4 478C479.2 487 476.8 496 474.9 504.8C472.8 513 471 521 469.9 529.6C468.9 538 468.4 546 468.3 554.4V561.4"/>
<path class="t" d="M494 465.2C491.5 470 489.2 475 487.3 480C484.6 488 482.4 496 480.7 504.8C479 513 477.5 521 476.5 529.6C475.9 538 475.7 546 475.7 554.4L475.8 561.4"/>
<!-- windshield side / A pillar -->
<path class="t" d="M441.9 452.8L470 454.5L494.8 455.3L511.3 457.4L538.1 462.3L576.2 469L620.3 478L680 481.4L862.8 489.1"/>
<path class="t" d="M437.1 456.7L470 457.4L490.7 458.6L511.3 461.1L538.1 465.8L576.2 472.5L619 480.6L680 484.5L869.8 491.5"/>
<path class="t" d="M514.6 453.3L538.1 455.9L576.2 461L591.4 463.9"/>
<path class="t" d="M515.9 455.3L538.1 458.9L576.2 465.5L600 470.5L620.3 476.8"/>
<path class="t" d="M515.9 454.1L512.1 460.7"/>
<!-- door top sill band -->
<path class="t" d="M574.9 450.5H515Q512.6 451 513.2 452L514.6 453.3"/>
<path class="t" d="M588.9 450.7L699 452.1L730 454M587.6 453.6L701.6 455.9L730 456.5"/>
<!-- front door window curve -->
<path class="t" d="M587.6 454C589.8 456.5 592.3 458.6 595.2 460.4L600 463.5C608 466 616.5 468 625.4 469.8C634 471.4 642 472.7 650.8 473.6L676.2 475.5L702.8 476.6"/>
<path class="t" d="M592 463L600 467.3C608 469.6 616.5 471.6 625.4 473.3C634 474.8 642 475.9 650.8 476.8L688.9 479.4L709.2 480"/>
<path class="t" d="M693.3 456.5L700.3 467.9L702.8 476.6M698.4 446.3L702.8 456.5L710.4 478.1"/>
<!-- fender/door seams, small items -->
<path class="t" d="M544 443.8L553.7 450.9"/>
<ellipse class="t" cx="534.3" cy="445.9" rx="4" ry="1.4" transform="rotate(-8 534.3 445.9)"/>
<path class="t" d="M668 446.3H688.5Q690.5 447.2 688.5 448.2H668Q666 447.2 668 446.3Z"/>
<!-- rear door window -->
<path class="t" d="M712.8 457L799.5 460.3Q802.6 461 801.9 464.5Q800.8 468.5 799.5 471.6Q797.5 475.5 793.7 477.4H716.3Z"/>
<path class="t" d="M730 454L770 454.7L808.6 457L833.6 458.9C837.5 459.8 840 461.5 841.3 463.7C843.3 466.3 844.6 468.8 844.8 471.4C844.8 474 844 476 842.3 477.2L808.6 478.2H799.5"/>
<path class="t" d="M730 456.5L770 457L808.6 459.3L831.7 460.8C835 461.6 837 463 838.4 464.7C840.5 467 841.8 469.2 842.3 471.4C842.4 474 841.6 475.8 840.4 476.6"/>
<path class="t" d="M795.1 479.2L808.6 468.6L820.1 457C822.5 454.5 824.6 452 825.9 449.3C826 447.5 824.8 446.3 823 445.4C821.5 444.4 820 443.8 818.2 443.5L808.6 442.7"/>
<ellipse class="t" cx="801.9" cy="451.4" rx="11.5" ry="2.3" transform="rotate(2 801.9 451.4)"/>
<!-- D pillar & tail -->
<path class="t" d="M867.5 443.4C874 445.5 879.5 448.6 883.9 452.8C888.5 457.5 892.3 463 895.6 469.2C899.5 476 902.6 483 905 490.3C908 499.5 909.8 509 910.8 518.4C911.8 528 912.3 538 912.5 548L912.6 561.4"/>
<path class="t" d="M867.5 443.4C872 449 877 453.5 881.6 457.5L886.2 457"/>
<path class="t" d="M862.8 489.1C862.3 483 862.7 477 864 471.6C865.8 466.5 868.5 462.5 872.2 459.8C876.5 457.6 881 457 886.2 457"/>
<path class="t" d="M862.8 489.1L899.1 473.4M869.8 491.5L895.6 477.4"/>
<path class="t" d="M883 467.4Q886 464 889 465L892 468.6L897.5 476.4L887.5 481Q885.5 481.4 884.5 479.5L881.6 472.4Q880.8 469.5 883 467.4Z"/>
<!-- rear window -->
<path class="m" d="M871.5 491L895.6 476.6C898 481 899.8 486 900.8 490.3C903.3 498 905 506 906.2 513.8C907.6 523 908.5 532 908.9 541L909.1 561.4"/>
<path class="t" d="M874.6 494.4L894.5 482.6C896.5 487 897.8 492 899.1 497.3C901 505 902.6 513 903.8 520.8C904.8 529 905.6 537 906 545L906.2 561.4"/>
<path class="m" d="M871.5 491C873.5 499 875.3 506.5 876.9 513.8C878.6 523 879.9 532 880.6 541L881 561.4"/>
<path class="t" d="M874.6 494.4C876.8 502 878.8 510 880.4 518.4C881.8 527 882.9 536 883.4 545L883.7 561.4"/>
<!-- interior solid lines -->
<path class="t" d="M620.3 477.9C617.5 485.5 615.2 493 613.4 501.3C611.5 510.5 610.2 519.5 609.3 528.9C608.4 539 608 550 607.9 561.4"/>
<path class="t" d="M809.9 497.2V561.4M809.9 491.5V477.9L831.9 476Q836.8 476.2 837.4 483.4V561.4M855 492.5V561.4"/>
<path class="t" d="M807.7 478.6C807 483 807.8 487.5 810.1 490.3L814.8 494.6L808.4 495.2"/>
<!-- dashed: front seat -->
<path class="d" d="M640 480.7H686L690.6 481.5V546L686 548.8H640Q617.6 548.8 617.6 528V501Q617.6 480.7 640 480.7Z"/>
<path class="d" d="M690.6 480.5L686.5 481.6V487.6L690.6 489.8V540L686.5 542.6V549L692 551L711.3 548.2C717 546.8 721 544.8 724 541C726.3 538 727.3 535 727.3 531.4V498.8C727.2 493 725.5 488.5 722 485C718.5 481.8 714 480 708.5 479.8Z"/>
<path class="d" d="M713 497.2H721.6Q727 497.6 727 503V527.6Q727 533 721.6 533H713Q709.3 533 709.3 529.3V500.9Q709.3 497.2 713 497.2Z"/>
<!-- dashed: rear seat -->
<path class="d" d="M736.9 561.4V495.8C737.3 490.5 740.5 485.5 746.5 482C752.5 478.5 759 476 765.8 475.2C772.5 475 779.5 476.6 785.1 479.3C789.5 481.5 793 484.3 796.1 487.5C798.5 490 801.5 491.6 805.8 491.7H809.5"/>
<path class="d" d="M823 501.3L832 503Q837.4 504.2 837.4 509.2V524Q837.4 528.6 832 529.5L823.5 530.2Q818.6 530 819.2 526L820.4 520L817.8 514.5L819.4 504.5Q820 501.2 823 501.3Z"/>
</g><g style="mix-blend-mode:darken" transform="matrix(1 0 0 -1 0 1121.8)"><rect x="370" y="436" width="560" height="130" fill="#fff"/><!-- outer body -->
<path class="k" d="M377.4 561.4C377.2 558 377.1 555 377.2 552.6C377.3 545 377.6 538 378.2 532C378.9 526 379.8 520 381 514.1C382.1 508.5 383.4 503.5 385 498.6C386.4 495 388 492 389.8 489L394.6 480.3C396.8 477 399 473.8 401.4 470.7C404.2 467.3 407 464 410.1 461C412.6 458.7 415 456.7 417.8 454.8C419.8 453.5 421.6 452.3 423.6 451.4L429.4 449.9L436.1 445.6C438.3 444.6 440.5 443.8 442.9 443.2C446 442.6 449 442.3 452.5 442.2L475 441.8L497.9 442L529.3 442.3L535.2 443.4L578.1 443.8H597.7L690 445.4L773.7 447C777 446.8 780 445.2 783.1 444.1C787.5 443 792 442.7 797.2 442.7H867.5C875 443 881 445 886.2 448.1C892 452 896.5 456.5 900.3 462.2C904.5 468.5 908 475.5 910.8 483.3C913.5 491 915.8 500 917.6 509C919.3 519 920.4 530 920.9 540.6L921.2 561.4"/>
<!-- inner front bumper line -->
<path class="t" d="M379.6 561.4V552.6C379.7 545 379.9 538 380.3 532C380.9 525 381.8 518 383 511.3L384.2 506"/>
<!-- grille top -->
<path class="t" d="M383 506.5C385.5 505 387.5 503.8 389.9 503C392 502.4 394.5 502.1 396.8 502"/>
<path class="t" d="M396.1 498.2C395.8 502 395.3 507 394.7 511.3L392.7 525.1L390.6 541.6L389.2 552.6L388.8 561.4"/>
<path class="t" d="M394.4 509.6C391.5 514 389 519.5 387.2 525.1C386 529 385.2 532.6 385.1 536.1C385.2 539 386 542 387.2 544.4"/>
<path class="t" d="M390.6 543C387.5 543.8 385.8 545 384.4 547.1C383 549.3 382.1 551.5 381.6 554C381.2 556.4 381 558.6 381 561.4"/>
<!-- headlight and fender lines -->
<path class="t" d="M392.2 498.2C393.8 494.5 395.5 490.8 397.5 487.1C399.3 483.8 401.2 480.5 403.3 477.4C405.6 474.3 408.2 471.4 411 468.8C413.4 466.5 416 464.4 418.7 462.5C421 461 423.6 459.9 426.5 459.1C429.2 458.3 432 457.8 435.1 457.7L452.5 457.2L466 458"/>
<path class="t" d="M392.2 498.2L397.5 496.7L413.9 489L433.2 477.4L452.5 465.9L466 458"/>
<path class="t" d="M396.6 502.5L413.9 497.2L433.2 489.5L452.5 479.8L475 468.3L489.6 461.6M396.6 497.6V505"/>
<ellipse class="t" cx="406.2" cy="471.2" rx="4.3" ry="2.3" transform="rotate(-52 406.2 471.2)"/>
<path class="t" d="M429.4 449.9L443.8 449.5L435.1 457.7M455.4 443.7L441.9 452.8"/>
<!-- hood creases -->
<path class="t" d="M390.6 543C395.5 546.5 401 549.2 406.4 551.3C413 553.4 420 554.6 427.1 555.4L449.1 557.5L468.4 558.2"/>
<path class="t" d="M389.2 558.2L467 560.5"/>
<!-- hood rear/cowl arcs -->
<path class="t" d="M490.2 461.5C487 467 484.5 472.5 482.4 478C479.2 487 476.8 496 474.9 504.8C472.8 513 471 521 469.9 529.6C468.9 538 468.4 546 468.3 554.4V561.4"/>
<path class="t" d="M494 465.2C491.5 470 489.2 475 487.3 480C484.6 488 482.4 496 480.7 504.8C479 513 477.5 521 476.5 529.6C475.9 538 475.7 546 475.7 554.4L475.8 561.4"/>
<!-- windshield side / A pillar -->
<path class="t" d="M441.9 452.8L470 454.5L494.8 455.3L511.3 457.4L538.1 462.3L576.2 469L620.3 478L680 481.4L862.8 489.1"/>
<path class="t" d="M437.1 456.7L470 457.4L490.7 458.6L511.3 461.1L538.1 465.8L576.2 472.5L619 480.6L680 484.5L869.8 491.5"/>
<path class="t" d="M514.6 453.3L538.1 455.9L576.2 461L591.4 463.9"/>
<path class="t" d="M515.9 455.3L538.1 458.9L576.2 465.5L600 470.5L620.3 476.8"/>
<path class="t" d="M515.9 454.1L512.1 460.7"/>
<!-- door top sill band -->
<path class="t" d="M574.9 450.5H515Q512.6 451 513.2 452L514.6 453.3"/>
<path class="t" d="M588.9 450.7L699 452.1L730 454M587.6 453.6L701.6 455.9L730 456.5"/>
<!-- front door window curve -->
<path class="t" d="M587.6 454C589.8 456.5 592.3 458.6 595.2 460.4L600 463.5C608 466 616.5 468 625.4 469.8C634 471.4 642 472.7 650.8 473.6L676.2 475.5L702.8 476.6"/>
<path class="t" d="M592 463L600 467.3C608 469.6 616.5 471.6 625.4 473.3C634 474.8 642 475.9 650.8 476.8L688.9 479.4L709.2 480"/>
<path class="t" d="M693.3 456.5L700.3 467.9L702.8 476.6M698.4 446.3L702.8 456.5L710.4 478.1"/>
<!-- fender/door seams, small items -->
<path class="t" d="M544 443.8L553.7 450.9"/>
<ellipse class="t" cx="534.3" cy="445.9" rx="4" ry="1.4" transform="rotate(-8 534.3 445.9)"/>
<path class="t" d="M668 446.3H688.5Q690.5 447.2 688.5 448.2H668Q666 447.2 668 446.3Z"/>
<!-- rear door window -->
<path class="t" d="M712.8 457L799.5 460.3Q802.6 461 801.9 464.5Q800.8 468.5 799.5 471.6Q797.5 475.5 793.7 477.4H716.3Z"/>
<path class="t" d="M730 454L770 454.7L808.6 457L833.6 458.9C837.5 459.8 840 461.5 841.3 463.7C843.3 466.3 844.6 468.8 844.8 471.4C844.8 474 844 476 842.3 477.2L808.6 478.2H799.5"/>
<path class="t" d="M730 456.5L770 457L808.6 459.3L831.7 460.8C835 461.6 837 463 838.4 464.7C840.5 467 841.8 469.2 842.3 471.4C842.4 474 841.6 475.8 840.4 476.6"/>
<path class="t" d="M795.1 479.2L808.6 468.6L820.1 457C822.5 454.5 824.6 452 825.9 449.3C826 447.5 824.8 446.3 823 445.4C821.5 444.4 820 443.8 818.2 443.5L808.6 442.7"/>
<ellipse class="t" cx="801.9" cy="451.4" rx="11.5" ry="2.3" transform="rotate(2 801.9 451.4)"/>
<!-- D pillar & tail -->
<path class="t" d="M867.5 443.4C874 445.5 879.5 448.6 883.9 452.8C888.5 457.5 892.3 463 895.6 469.2C899.5 476 902.6 483 905 490.3C908 499.5 909.8 509 910.8 518.4C911.8 528 912.3 538 912.5 548L912.6 561.4"/>
<path class="t" d="M867.5 443.4C872 449 877 453.5 881.6 457.5L886.2 457"/>
<path class="t" d="M862.8 489.1C862.3 483 862.7 477 864 471.6C865.8 466.5 868.5 462.5 872.2 459.8C876.5 457.6 881 457 886.2 457"/>
<path class="t" d="M862.8 489.1L899.1 473.4M869.8 491.5L895.6 477.4"/>
<path class="t" d="M883 467.4Q886 464 889 465L892 468.6L897.5 476.4L887.5 481Q885.5 481.4 884.5 479.5L881.6 472.4Q880.8 469.5 883 467.4Z"/>
<!-- rear window -->
<path class="m" d="M871.5 491L895.6 476.6C898 481 899.8 486 900.8 490.3C903.3 498 905 506 906.2 513.8C907.6 523 908.5 532 908.9 541L909.1 561.4"/>
<path class="t" d="M874.6 494.4L894.5 482.6C896.5 487 897.8 492 899.1 497.3C901 505 902.6 513 903.8 520.8C904.8 529 905.6 537 906 545L906.2 561.4"/>
<path class="m" d="M871.5 491C873.5 499 875.3 506.5 876.9 513.8C878.6 523 879.9 532 880.6 541L881 561.4"/>
<path class="t" d="M874.6 494.4C876.8 502 878.8 510 880.4 518.4C881.8 527 882.9 536 883.4 545L883.7 561.4"/>
<!-- interior solid lines -->
<path class="t" d="M620.3 477.9C617.5 485.5 615.2 493 613.4 501.3C611.5 510.5 610.2 519.5 609.3 528.9C608.4 539 608 550 607.9 561.4"/>
<path class="t" d="M809.9 497.2V561.4M809.9 491.5V477.9L831.9 476Q836.8 476.2 837.4 483.4V561.4M855 492.5V561.4"/>
<path class="t" d="M807.7 478.6C807 483 807.8 487.5 810.1 490.3L814.8 494.6L808.4 495.2"/>
<!-- dashed: front seat -->
<path class="d" d="M640 480.7H686L690.6 481.5V546L686 548.8H640Q617.6 548.8 617.6 528V501Q617.6 480.7 640 480.7Z"/>
<path class="d" d="M690.6 480.5L686.5 481.6V487.6L690.6 489.8V540L686.5 542.6V549L692 551L711.3 548.2C717 546.8 721 544.8 724 541C726.3 538 727.3 535 727.3 531.4V498.8C727.2 493 725.5 488.5 722 485C718.5 481.8 714 480 708.5 479.8Z"/>
<path class="d" d="M713 497.2H721.6Q727 497.6 727 503V527.6Q727 533 721.6 533H713Q709.3 533 709.3 529.3V500.9Q709.3 497.2 713 497.2Z"/>
<!-- dashed: rear seat -->
<path class="d" d="M736.9 561.4V495.8C737.3 490.5 740.5 485.5 746.5 482C752.5 478.5 759 476 765.8 475.2C772.5 475 779.5 476.6 785.1 479.3C789.5 481.5 793 484.3 796.1 487.5C798.5 490 801.5 491.6 805.8 491.7H809.5"/>
<path class="d" d="M823 501.3L832 503Q837.4 504.2 837.4 509.2V524Q837.4 528.6 832 529.5L823.5 530.2Q818.6 530 819.2 526L820.4 520L817.8 514.5L819.4 504.5Q820 501.2 823 501.3Z"/>
</g><!-- centre crease line on hood -->

<!-- logo -->
<path class="f" d="M384.7 558.2l2.2 2.8l-2.2 2.8l-2.2-2.8zM379.6 554.2h1.6v3.9h-1.6zM379.6 564h1.6v3.9h-1.6z"/>
<!-- nozzles -->
<path class="f" d="M459.4 518.1h2.3v2.3h-2.3zM459.4 550.5h2.3v2.3h-2.3zM459.4 602.6h2.3v2.3h-2.3z"/>
<!-- middle headrest -->
<path class="d" d="M823 546.8L832 548.5Q837.4 549.7 837.4 554.7V569.5Q837.4 574.1 832 575L823.5 575.7Q818.6 575.5 819.2 571.5L820.4 565.5L817.8 560L819.4 550Q820 546.7 823 546.8Z"/>
<!-- rear seat back bump -->
<path class="w" d="M808 545H812V586H808Z"/>
<path class="t" d="M809.9 544C809.5 548 806.5 550 805.8 553.7V570.2C806.5 575 811.5 577.5 812.6 581.2Q812.4 584 809.9 585.6"/>
<!-- antenna (top) -->
<path class="t" d="M834 559.2H837.6V563.6H834ZM837.6 561.4H864.2"/>
<!-- steering wheel -->
<ellipse class="d" cx="608" cy="606.2" rx="10.6" ry="26.6"/>
<ellipse class="d" cx="607.4" cy="605.6" rx="5.2" ry="20"/>
<path class="f" d="M602.2 605.8l3-2.2v3.4z"/>
<path class="d" d="M606 604.6L612.5 590M606 604.6L617 600M606 604.6L614 622"/>
<!-- top mirror -->
<path class="m w" d="M579.1 447.7L611.3 409.6Q614.3 408 617.2 409.6Q618 410.6 617.4 412L597.7 443.8L595.7 446.8L588.9 448.7L585.9 452.6L584 456.5L574.2 452.6Z"/>
<path class="t" d="M579.1 447.7L586.6 451.8M574.2 452.6L579.1 447.7"/>
<!-- bottom mirror -->
<path class="m w" d="M573.7 669.8L576.5 670.3L598.3 699Q601 700.6 603.3 699Q604.4 698.2 603.8 696.8L597 678.5L590.5 671L586 667.6L584 665.3Z"/>
<path class="t" d="M576.5 670.3L585.8 667.6"/>
<!-- fuel ellipse -->
<ellipse class="t" cx="859.5" cy="667.9" rx="10" ry="2.6" transform="rotate(-6 859.5 667.9)"/>
<!-- windshield front edge -->
<path class="m" d="M516.3 462.8L511.3 463.6L500 463.2Q498.4 463.2 498.1 464.8L495.6 482.2L494 501.2L491 509.5L490.1 530L489.8 569.3L490.6 593L493 626.1L495.5 646Q496.6 652.5 498 655.6Q499.8 658.6 503 658.8L516.3 659"/>
<!-- cowl arc3 + wiper arm 1 -->
<path class="t" d="M494 465.2Q495.6 464.2 495.3 466.4C495 470 494.6 474 493.8 478C492.3 484 490.6 490 489 496C487.8 500 487 502.5 486.4 504.8C485.3 510 484.5 516 484 521.3C483.2 529 482.7 538 482.3 546.1C481.8 555 481.3 564 480.7 572.6L479 594"/>
<path class="t" d="M493.9 502.6L491.4 508.1C489.6 512.5 488.2 517 487.3 521.3C486 529 485.3 538 484.8 546.1L483.1 572.6L482.2 590.5"/>
<path class="t" d="M506.2 468.6L494.8 501.2L498.5 502.3L507.5 469.5Q507.8 468.1 506.9 468Q506.4 468 506.2 468.6Z"/>
<!-- wiper blade 2 -->
<path class="t" d="M493.9 521.3L496.7 523V583.3C494.5 582 493.4 580.6 493.1 579.2C492.5 577 492.2 575 492.2 572.6L493.9 569.3Z"/>
<!-- wiper arm 2 (lower) -->
<ellipse class="t w" cx="483.3" cy="593.9" rx="2.9" ry="1.8" transform="rotate(-8 483.3 593.9)"/>
<path class="t" d="M480.7 595.5L485.6 641M486.2 595.3L490.6 641"/>
<circle class="t" cx="488.6" cy="644.3" r="2.4"/>
<ellipse class="t" cx="492.2" cy="652.6" rx="2" ry="4.4" transform="rotate(-14 492.2 652.6)"/>
<!-- rear wiper in top view -->
<path class="t" d="M880.2 539.9C881.8 550 882.4 562 882 580.4C880.6 566 880.4 552 880.2 539.9Z"/>
<path class="t" d="M907 542.6C910 552 912.5 562 914.6 575.7L913 577C911.5 565 909.5 553 906.3 542.6"/>
</g>
</svg></body></html>
